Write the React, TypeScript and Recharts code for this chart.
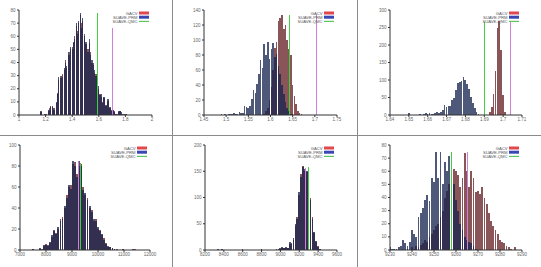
import React from 'react';
import { ComposedChart, Bar, XAxis, YAxis, ReferenceLine } from 'recharts';

const FONT = '"Liberation Sans", Arial, sans-serif';

// ---- panel 1 (top left) ----
const p1Start = 1.15;
const p1Step = 0.01;
const p1Gacv = [0,2,3,0,1,0,1,3,5,6, 7,4,5,9,17,27,30,28,31,34, 42,36,46,48,50,52,55,60,68,64, 70,76,70,72,62,54,56,50,55,48, 40,40,32,31,25,20,16,14,10,13, 8,7,11,6,5,4,3,3,1,1, 2,3,1,1,0,1,1];
const p1Prm = [0,3,2,0,1,1,0,4,4,7, 6,5,4,10,16,29,28,30,29,36, 40,37,48,46,52,50,56,58,70,62, 72,78,66,74,60,56,54,48,58,46, 42,38,34,30,24,22,15,16,9,14, 7,8,12,5,6,3,4,2,1,0, 3,3,2,0,1,0,1];
const p1XTicks = [1, 1.2, 1.4, 1.6, 1.8, 2];
const p1YTicks = [0, 10, 20, 30, 40, 50, 60, 70, 80];
const p1Qmc = 1.59;
const p1True = 1.7;

// ---- panel 2 (top middle) ----
const p2Start = 1.49;
const p2Step = 0.004;
const p2Gacv = [0,0,0,0,0,0,0,0,0,0, 0,0,0,0,0,0,0,0,0,0, 0,0,0,0,2,5,10,20,38,60, 90,98,125,130,134,115,120,100,88,80, 40,25,15,6,3,1];
const p2Prm = [1,0,2,0,1,2,1,3,2,2, 4,3,3,12,11,10,12,22,34,30, 42,55,73,63,95,80,97,75,88,96, 78,82,65,55,40,28,18,10,5,2, 1,0,0,0,0,0];
const p2XTicks = [1.45, 1.5, 1.55, 1.6, 1.65, 1.7, 1.75];
const p2YTicks = [0, 20, 40, 60, 80, 100, 120, 140];
const p2Qmc = 1.642;
const p2True = 1.704;

// ---- panel 3 (top right) ----
const p3Start = 1.65;
const p3Step = 0.001;
const p3Gacv = [0,0,0,0,0,0,0,0,0,0, 0,0,0,0,0,0,0,0,0,0, 0,0,0,0,0,0,0,0,0,0, 0,0,0,0,0,0,0,0,0,0, 0,0,0,8,22,60,125,250,270,185, 58,10,0];
const p3Prm = [7,0,0,0,0,0,2,0,3,5, 4,5,4,3,6,8,7,10,13,30, 24,25,25,42,50,72,92,95,97,110, 100,90,75,52,35,20,8,3,1,0, 0,0,0,0,0,0,0,0,0,0, 0,0,0];
const p3XTicks = [1.64, 1.65, 1.66, 1.67, 1.68, 1.69, 1.7, 1.71];
const p3YTicks = [0, 50, 100, 150, 200, 250, 300];
const p3Qmc = 1.69;
const p3True = 1.704;

// ---- panel 4 (bottom left) ----
const p4Start = 7440;
const p4Step = 80;
const p4Gacv = [0,1,0,0,1,1,4,6,5,7, 12,19,16,20,30,31,40,52,60,62, 82,84,72,80,82,60,52,50,40,38, 28,30,20,19,14,11,7,3,3,2, 1,1,0,0,1,0,0,0,0,0, 1];
const p4Prm = [0,1,0,0,2,0,5,5,4,8, 14,18,15,22,28,30,42,50,62,58, 85,80,70,85,80,57,54,48,42,36, 30,28,22,18,15,10,6,4,3,2, 1,0,0,0,1,0,0,0,0,1, 0];
const p4XTicks = [7000, 8000, 9000, 10000, 11000, 12000];
const p4YTicks = [0, 20, 40, 60, 80, 100];
const p4Qmc = 9346;
const p4True = 9256;

// ---- panel 5 (bottom middle) ----
const p5Start = 8320;
const p5Step = 20;
const p5Gacv = [0,0,0,1,0,0,0,0,0,0, 0,0,0,0,0,0,0,0,0,0, 0,0,0,0,1,0,0,0,0,0, 0,0,0,1, 2,4,4,4,3,12,14,20,45,62, 105,145,160,150,148,125,100,62,32,16, 7,2];
const p5Prm = [0,1,0,1,0,0,0,0,0,0, 0,0,0,0,1,0,0,0,0,0, 0,0,0,0,1,0,0,0,0,0, 0,0,1,0, 3,5,3,5,3,15,12,22,50,60, 110,140,158,155,150,130,95,60,35,18, 6,2];
const p5XTicks = [8200, 8400, 8600, 8800, 9000, 9200, 9400, 9600];
const p5YTicks = [0, 50, 100, 150, 200];
const p5Qmc = 9296;
const p5True = 9268;

// ---- panel 6 (bottom right) ----
const p6Start = 9230;
const p6Step = 1;
const p6Gacv = [0,0,0,0,0,0,0,0,1,0, 2,1,3,2,4,5,8,6,10,12, 15,18,20,25,30,40,45,50,58,62, 60,57,48,55,74,60,48,60,55,44, 45,43,48,40,35,28,22,18,15,12, 8,6,5,3,2,1,0,2,0,0];
const p6Prm = [2,1,1,1,2,3,8,5,3,6, 15,12,10,25,28,32,38,42,37,55, 52,75,55,75,50,67,60,72,56,50, 38,30,20,15,10,8,6,5,3,1, 0,0,0,0,0,0,0,0,0,0, 0,0,0,0,0,0,0,0,0,0];
const p6XTicks = [9230, 9240, 9250, 9260, 9270, 9280, 9290];
const p6YTicks = [0, 10, 20, 30, 40, 50, 60, 70, 80];
const p6Qmc = 9258;
const p6True = 9265.3;

const bins = (start: number, step: number, gacv: number[], prm: number[]) =>
  gacv.map((g, i) => ({ x: +(start + i * step).toFixed(6), gacv: g, prm: prm[i] }));

const fmt = (v: number) => String(+v.toFixed(4));

const tickStyle = { fontSize: 4.5, fill: '#666', fontFamily: FONT };

const Y_W = 14;
const X_H = 10;

interface PanelProps {
  x: number; y: number; w: number; h: number;
  pl: number; pr: number; pt: number; pb: number;
  start: number; step: number; gacv: number[]; prm: number[];
  xTicks: number[]; yTicks: number[];
  qmc: number; truth: number; qmcTop: number; trueTop: number;
}

const Panel: React.FC<PanelProps> = (p) => {
  const data = bins(p.start, p.step, p.gacv, p.prm);
  const xDomain = [p.xTicks[0], p.xTicks[p.xTicks.length - 1]];
  const yDomain = [0, p.yTicks[p.yTicks.length - 1]];
  const barSize = ((p.pr - p.pl) / (xDomain[1] - xDomain[0])) * p.step;
  const legendRight = p.pr - 3;
  const rows = [p.pt + 3, p.pt + 7.2, p.pt + 11.4];
  return (
    <div style={{ position: 'absolute', left: p.x, top: p.y, width: p.w, height: p.h }}>
      <ComposedChart
        width={p.w}
        height={p.h}
        data={data}
        margin={{ left: p.pl - Y_W, right: p.w - p.pr, top: p.pt, bottom: p.h - p.pb - X_H }}
        barGap={0}
        barCategoryGap={0}
      >
        <XAxis
          xAxisId="a" dataKey="x" type="number" domain={xDomain} ticks={p.xTicks} interval={0}
          allowDataOverflow height={X_H} tickSize={2} tickMargin={1} tickFormatter={fmt}
          tick={tickStyle} axisLine={{ stroke: '#333' }} tickLine={{ stroke: '#333' }}
        />
        <XAxis xAxisId="b" dataKey="x" type="number" domain={xDomain} allowDataOverflow hide />
        <YAxis
          type="number" domain={yDomain} ticks={p.yTicks} interval={0} allowDataOverflow
          width={Y_W} tickSize={2} tickMargin={1.5} tick={tickStyle}
          axisLine={{ stroke: '#333' }} tickLine={{ stroke: '#333' }}
        />
        <Bar xAxisId="a" dataKey="gacv" fill="#8a5558" barSize={barSize}
          shapeRendering="crispEdges" isAnimationActive={false} />
        <Bar xAxisId="b" dataKey="prm" fill="#16234d" fillOpacity={0.76} barSize={barSize}
          shapeRendering="crispEdges" isAnimationActive={false} />
        <ReferenceLine xAxisId="a" segment={[{ x: p.qmc, y: 0 }, { x: p.qmc, y: p.qmcTop }]}
          stroke="#3fcf3f" strokeWidth={1} shapeRendering="crispEdges" ifOverflow="visible" />
        <ReferenceLine xAxisId="a" segment={[{ x: p.truth, y: 0 }, { x: p.truth, y: p.trueTop }]}
          stroke="#d27fd8" strokeWidth={1} shapeRendering="crispEdges" ifOverflow="visible" />
      </ComposedChart>
      {/* legend, top right of the plot */}
      <svg width={p.w} height={p.h} style={{ position: 'absolute', left: 0, top: 0, pointerEvents: 'none' }}>
        {['GACV', 'SUAVE-PRM', 'SUAVE-QMC'].map((t, i) => (
          <text key={t} x={legendRight - 11.5} y={rows[i]} textAnchor="end" dominantBaseline="central"
            fontSize={4.2} fill="#555" fontFamily={FONT}>{t}</text>
        ))}
        <rect x={legendRight - 10} y={rows[0] - 1.5} width={10} height={3} fill="#e0484e" />
        <rect x={legendRight - 10} y={rows[1] - 1.5} width={10} height={3} fill="#3a47b3" />
        <line x1={legendRight - 10} x2={legendRight} y1={rows[2]} y2={rows[2]} stroke="#5cc65c" strokeWidth={1.2} />
      </svg>
    </div>
  );
};

export default function App() {
  return (
    <div style={{ position: 'absolute', left: 0, top: 0, width: 541, height: 267, background: '#fff', overflow: 'hidden' }}>
      <Panel x={0} y={0} w={173} h={135} pl={19} pr={152} pt={10} pb={115}
        start={p1Start} step={p1Step} gacv={p1Gacv} prm={p1Prm} xTicks={p1XTicks} yTicks={p1YTicks}
        qmc={p1Qmc} truth={p1True} qmcTop={78} trueTop={66} />
      <Panel x={173} y={0} w={185} h={135} pl={31} pr={164} pt={10} pb={115}
        start={p2Start} step={p2Step} gacv={p2Gacv} prm={p2Prm} xTicks={p2XTicks} yTicks={p2YTicks}
        qmc={p2Qmc} truth={p2True} qmcTop={133} trueTop={133} />
      <Panel x={358} y={0} w={183} h={135} pl={32} pr={164} pt={10} pb={115}
        start={p3Start} step={p3Step} gacv={p3Gacv} prm={p3Prm} xTicks={p3XTicks} yTicks={p3YTicks}
        qmc={p3Qmc} truth={p3True} qmcTop={266} trueTop={266} />
      <Panel x={0} y={135} w={173} h={132} pl={20} pr={150} pt={10} pb={115}
        start={p4Start} step={p4Step} gacv={p4Gacv} prm={p4Prm} xTicks={p4XTicks} yTicks={p4YTicks}
        qmc={p4Qmc} truth={p4True} qmcTop={83} trueTop={85} />
      <Panel x={173} y={135} w={185} h={132} pl={32} pr={164} pt={10} pb={115}
        start={p5Start} step={p5Step} gacv={p5Gacv} prm={p5Prm} xTicks={p5XTicks} yTicks={p5YTicks}
        qmc={p5Qmc} truth={p5True} qmcTop={158} trueTop={156} />
      <Panel x={358} y={135} w={183} h={132} pl={32} pr={164} pt={10} pb={115}
        start={p6Start} step={p6Step} gacv={p6Gacv} prm={p6Prm} xTicks={p6XTicks} yTicks={p6YTicks}
        qmc={p6Qmc} truth={p6True} qmcTop={75} trueTop={75} />
      {/* panel separators */}
      <div style={{ position: 'absolute', left: 172, top: 0, width: 1, height: 267, background: '#8a8a8a' }} />
      <div style={{ position: 'absolute', left: 357, top: 0, width: 1, height: 267, background: '#8a8a8a' }} />
      <div style={{ position: 'absolute', left: 0, top: 135, width: 541, height: 1, background: '#8a8a8a' }} />
    </div>
  );
}
